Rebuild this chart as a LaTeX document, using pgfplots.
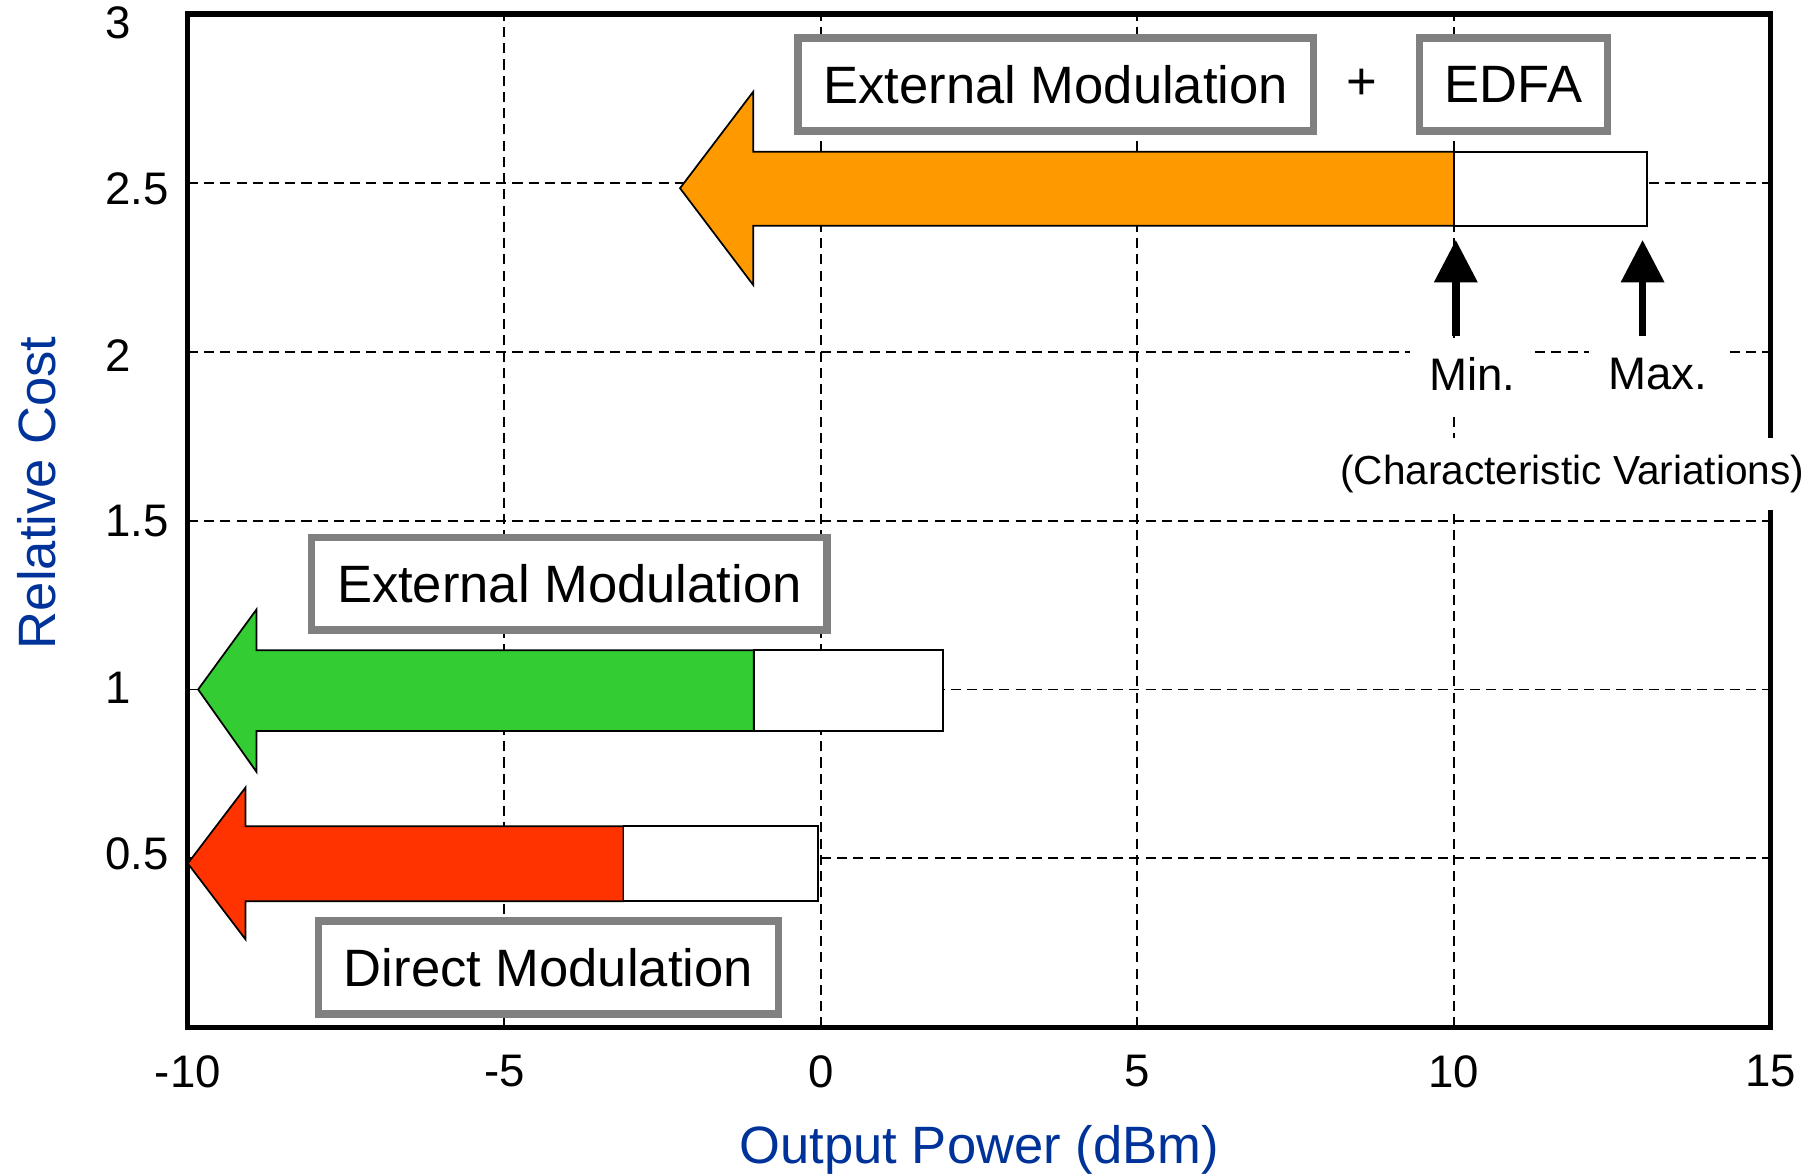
\documentclass[border=0pt]{standalone}
\usepackage{pgfplots}
\pgfplotsset{compat=1.18}
\usepackage{fontspec}
\setmainfont{Liberation Sans}
\usetikzlibrary{arrows.meta}

\definecolor{edfaorange}{HTML}{FF9900}
\definecolor{extgreen}{HTML}{33CC33}
\definecolor{dirred}{HTML}{FF3300}
\definecolor{boxgray}{HTML}{808080}
\definecolor{labelblue}{HTML}{003399}

\begin{document}
\begin{tikzpicture}[
  lbl/.style={draw=boxgray, line width=1.9pt, fill=white, inner xsep=6.6pt,
              minimum height=24pt, font=\fontsize{13.6}{16}\selectfont},
  note/.style={fill=white, inner xsep=5pt, inner ysep=5pt,
               font=\fontsize{11.8}{14}\selectfont},
]
\begin{axis}[
  scale only axis,
  width=409.5pt, height=262.2pt,
  xmin=-10, xmax=15, ymin=0, ymax=3,
  xtick={-10,-5,...,15},
  ytick={0.5,1,...,3},
  major tick length=0pt,
  grid=major,
  major grid style={black, line width=0.5pt, dash pattern=on 2.6pt off 1.6pt},
  axis line style={line width=1.35pt},
  tick label style={font=\fontsize{11.8}{14}\selectfont},
  /pgf/number format/assume math mode=true,
  yticklabel style={anchor=west, xshift=-24.9pt, yshift={1.08pt-0.66pt*\ticknum}},
  xticklabel style={yshift=-3.8pt},
  xlabel={Output Power (dBm)},
  ylabel={Relative Cost},
  label style={font=\fontsize{13.6}{16}\selectfont, text=labelblue},
  xlabel style={at={(axis description cs:0.5,-0.121)}, anchor=center},
  ylabel style={at={(axis description cs:-0.0952,0.5275)}, anchor=center},
  clip=false,
]
% external modulation + EDFA
\addplot[fill=edfaorange, draw=black, line width=0.45pt] coordinates {
  (10,2.373) (-1.067,2.373) (-1.067,2.197) (-2.225,2.484)
  (-1.067,2.770) (-1.067,2.592) (10,2.592)} -- cycle;
\addplot[fill=white, draw=black, line width=0.45pt] coordinates {
  (10,2.373) (13.05,2.373) (13.05,2.592) (10,2.592)} -- cycle;

% external modulation
\addplot[fill=extgreen, draw=black, line width=0.45pt] coordinates {
  (-1.06,0.877) (-8.915,0.877) (-8.915,0.756) (-9.837,1.0)
  (-8.915,1.237) (-8.915,1.116) (-1.06,1.116)} -- cycle;
\addplot[fill=white, draw=black, line width=0.45pt] coordinates {
  (-1.06,0.877) (1.93,0.877) (1.93,1.116) (-1.06,1.116)} -- cycle;

% direct modulation
\addplot[fill=dirred, draw=black, line width=0.45pt] coordinates {
  (-3.12,0.373) (-9.088,0.373) (-9.088,0.260) (-10,0.485)
  (-9.088,0.710) (-9.088,0.595) (-3.12,0.595)} -- cycle;
\addplot[fill=white, draw=black, line width=0.45pt] coordinates {
  (-3.12,0.373) (-0.04,0.373) (-0.04,0.595) (-3.12,0.595)} -- cycle;

% min / max arrows
\addplot[black, line width=2pt, -{Triangle[width=10.8pt,length=11pt]}]
  coordinates {(10.03,2.046) (10.03,2.331)};
\addplot[black, line width=2pt, -{Triangle[width=10.8pt,length=11pt]}]
  coordinates {(12.98,2.046) (12.98,2.331)};

\node[lbl] at (axis cs:3.71,2.791) {External Modulation};
\node[font=\fontsize{13.6}{16}\selectfont] at (axis cs:8.553,2.791) {+};
\node[lbl] at (axis cs:10.94,2.791) {EDFA};
\node[lbl] at (axis cs:-3.974,1.313) {External Modulation};
\node[lbl] at (axis cs:-4.304,0.177) {Direct Modulation};
\node[note] at (axis cs:10.29,1.933) {Min.};
\node[note] at (axis cs:13.22,1.933) {Max.};
\node[note, font=\fontsize{10.5}{12}\selectfont, inner ysep=4.5pt, inner xsep=1pt]
  at (axis cs:11.868,1.638) {(Characteristic Variations)};

\coordinate (bl) at (rel axis cs:0,0);
\coordinate (tr) at (rel axis cs:1,1);
\end{axis}
\pgfresetboundingbox
\path[use as bounding box] ([shift={(-48.6pt,-38.4pt)}]bl) rectangle ([shift={(12.3pt,3.6pt)}]tr);
\end{tikzpicture}
\end{document}
